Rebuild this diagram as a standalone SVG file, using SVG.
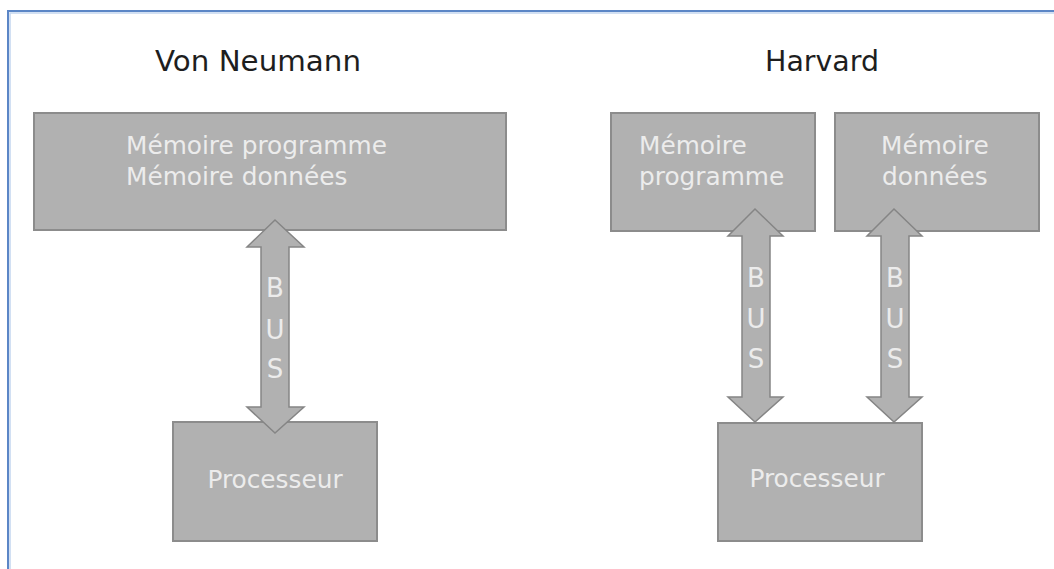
<svg xmlns="http://www.w3.org/2000/svg" width="1054" height="569" viewBox="0 0 1054 569">
<style>
.box{fill:#b1b1b1;stroke:#8c8c8c;stroke-width:2}
.arr{fill:#b1b1b1;stroke:#858585;stroke-width:1.5;stroke-linejoin:miter}
.t{font-family:"DejaVu Sans",Verdana,sans-serif;fill:#ececec;font-size:24.8px}
.bus{font-family:"DejaVu Sans",Verdana,sans-serif;fill:#ececec;font-size:26px;text-anchor:middle}
.title{font-family:"DejaVu Sans",Verdana,sans-serif;fill:#1e1e1e;font-size:28.5px}
</style>
<rect width="1054" height="569" fill="#ffffff"/>
<path d="M8 569 V11 H1054" fill="none" stroke="#5b86c6" stroke-width="2"/>
<path d="M10 569 V13 H1054" fill="none" stroke="#c4d6ef" stroke-width="1.5"/>
<text class="title" x="155" y="71" textLength="206" lengthAdjust="spacingAndGlyphs">Von Neumann</text>
<text class="title" x="765" y="71" textLength="114" lengthAdjust="spacingAndGlyphs">Harvard</text>
<g id="vn-memoire">
<rect class="box" x="34" y="113" width="472" height="117"/>
<text class="t" x="126" y="154">Mémoire programme</text>
<text class="t" x="126" y="185">Mémoire données</text>
</g>
<g id="vn-processeur">
<rect class="box" x="173" y="422" width="204" height="119"/>
<text class="t" x="275" y="488" text-anchor="middle">Processeur</text>
</g>
<g id="h-memoire-programme">
<rect class="box" x="611" y="113" width="204" height="118"/>
<text class="t" x="639" y="154">Mémoire</text>
<text class="t" x="639" y="185">programme</text>
</g>
<g id="h-memoire-donnees">
<rect class="box" x="835" y="113" width="204" height="118"/>
<text class="t" x="881" y="154">Mémoire</text>
<text class="t" x="882" y="185">données</text>
</g>
<g id="h-processeur">
<rect class="box" x="718" y="423" width="204" height="118"/>
<text class="t" x="817" y="487" text-anchor="middle">Processeur</text>
</g>
<g id="connectors">
<g id="vn-bus">
<path class="arr" d="M275 220 L304 247 L289 247 L289 407 L304 407 L275 433 L247 407 L261 407 L261 247 L247 247 Z"/>
<text class="bus" x="275" y="297">B</text>
<text class="bus" x="275" y="339">U</text>
<text class="bus" x="275" y="378">S</text>
</g>
<g id="h-bus-programme">
<path class="arr" d="M755 209 L783 236 L770 236 L770 397 L783 397 L755 422 L728 397 L742 397 L742 236 L728 236 Z"/>
<text class="bus" x="756" y="287">B</text>
<text class="bus" x="756" y="328">U</text>
<text class="bus" x="756" y="368">S</text>
</g>
<g id="h-bus-donnees">
<path class="arr" d="M894 209 L922 236 L909 236 L909 397 L922 397 L894 422 L867 397 L881 397 L881 236 L867 236 Z"/>
<text class="bus" x="895" y="287">B</text>
<text class="bus" x="895" y="328">U</text>
<text class="bus" x="895" y="368">S</text>
</g>
</g>
</svg>
